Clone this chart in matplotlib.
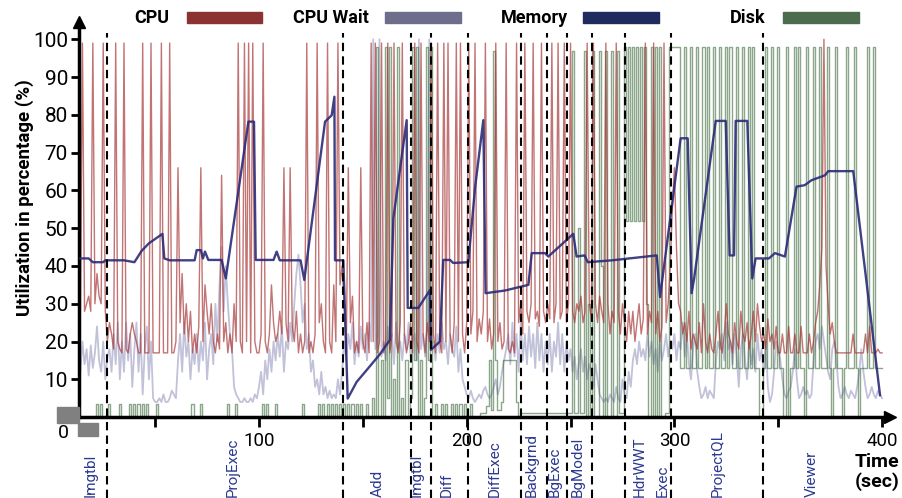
import numpy as np
import matplotlib.pyplot as plt
from matplotlib.patches import Rectangle

plt.rcParams['font.family'] = ['Roboto', 'DejaVu Sans']

# samples are one per second, starting at t = 10 s
t_start = 10

cpu = [
    35, 35, 35, 30, 28, 99, 28, 30, 32, 28,   # 10
    99, 30, 38, 32, 30, 99, 28, 20, 25, 22,   # 20
    18, 99, 20, 18, 17, 99, 18, 17, 22, 25,   # 30
    22, 20, 17, 17, 99, 17, 17, 17, 99, 17,   # 40
    17, 17, 17, 99, 17, 17, 17, 99, 17, 17,   # 50
    20, 66, 25, 38, 22, 30, 20, 28, 17, 22,   # 60
    17, 24, 66, 20, 35, 28, 22, 30, 20, 17,   # 70
    22, 18, 64, 20, 25, 17, 22, 17, 30, 20,   # 80
    99, 20, 17, 99, 20, 99, 17, 99, 20, 17,   # 90
    17, 22, 99, 20, 17, 22, 35, 25, 20, 22,   # 100
    28, 22, 66, 25, 20, 66, 24, 20, 28, 17,   # 110
    22, 17, 20, 99, 17, 20, 17, 22, 99, 25,   # 120
    30, 20, 17, 99, 20, 17, 35, 20, 99, 35,   # 130
    40, 30, 17, 66, 25, 32, 17, 20, 17, 66,   # 140
    20, 17, 25, 17, 99, 20, 99, 17, 20, 99,   # 150
    17, 20, 99, 17, 22, 99, 20, 17, 25, 99,   # 160
    22, 17, 20, 25, 17, 99, 20, 17, 99, 22,   # 170
    17, 25, 20, 99, 22, 17, 99, 20, 17, 99,   # 180
    20, 99, 22, 17, 25, 99, 20, 99, 22, 17,   # 190
    25, 99, 22, 28, 99, 20, 26, 22, 28, 99,   # 200
    20, 26, 18, 22, 99, 20, 25, 18, 20, 99,   # 210
    18, 17, 20, 17, 99, 25, 30, 22, 99, 28,   # 220
    25, 30, 99, 26, 28, 24, 99, 28, 25, 30,   # 230
    26, 99, 25, 30, 99, 26, 28, 99, 25, 30,   # 240
    99, 28, 25, 30, 28, 32, 25, 28, 99, 30,   # 250
    26, 99, 30, 25, 32, 28, 25, 99, 30, 22,   # 260
    28, 25, 99, 28, 22, 30, 25, 20, 28, 22,   # 270
    28, 20, 25, 30, 22, 26, 99, 22, 28, 25,   # 280
    99, 22, 28, 20, 24, 99, 25, 30, 40, 55,   # 290
    66, 45, 30, 28, 22, 25, 20, 28, 18, 22,   # 300
    20, 18, 25, 17, 30, 20, 17, 22, 18, 17,   # 310
    22, 28, 20, 17, 22, 30, 22, 20, 17, 25,   # 320
    20, 18, 28, 22, 20, 25, 18, 22, 28, 20,   # 330
    30, 24, 20, 22, 18, 26, 20, 22, 18, 24,   # 340
    17, 17, 22, 17, 17, 24, 17, 17, 22, 17,   # 350
    17, 24, 17, 17, 17, 22, 17, 20, 25, 28,   # 360
    35, 45, 100, 40, 30, 22, 25, 20, 17, 17,  # 370
    17, 17, 17, 17, 17, 17, 22, 17, 17, 17,   # 380
    17, 17, 22, 17, 24, 17, 17, 17, 18, 17,   # 390
    17,
]

cpu_wait = [
    15, 15, 15, 18, 12, 20, 14, 18, 11, 19,   # 10
    13, 17, 24, 15, 12, 20, 10, 16, 18, 12,   # 20
    22, 14, 25, 10, 20, 12, 25, 15, 22, 8,    # 30
    18, 25, 12, 22, 6, 18, 24, 10, 20, 5,     # 40
    4, 4, 5, 4, 6, 4, 4, 5, 7, 6,             # 50
    5, 15, 22, 12, 25, 16, 20, 10, 18, 14,    # 60
    22, 12, 20, 15, 25, 10, 18, 22, 14, 30,   # 70
    20, 35, 45, 28, 40, 30, 22, 18, 8, 6,     # 80
    5, 4, 4, 5, 4, 4, 5, 4, 6, 5,             # 90
    8, 12, 6, 15, 10, 18, 12, 20, 15, 22,     # 100
    16, 24, 12, 20, 18, 25, 20, 30, 38, 43,   # 110
    35, 25, 30, 18, 22, 12, 15, 8, 10, 6,     # 120
    12, 6, 8, 5, 7, 5, 6, 5, 10, 6,           # 130
    12, 20, 15, 22, 18, 25, 14, 20, 16, 24,   # 140
    18, 22, 15, 25, 20, 100, 18, 22, 100, 16, # 150
    20, 15, 24, 18, 22, 14, 25, 18, 20, 15,   # 160
    22, 18, 25, 16, 20, 22, 15, 100, 18, 22,  # 170
    16, 24, 100, 18, 20, 15, 22, 17, 25, 18,  # 180
    20, 14, 22, 18, 16, 24, 12, 18, 10, 8,    # 190
    6, 5, 7, 5, 4, 5, 6, 5, 7, 8,             # 200
    6, 5, 6, 8, 10, 6, 8, 12, 15, 18,         # 210
    22, 14, 25, 16, 22, 12, 25, 15, 22, 14,   # 220
    24, 16, 22, 13, 25, 15, 22, 12, 20, 14,   # 230
    22, 12, 20, 16, 25, 14, 22, 12, 20, 15,   # 240
    18, 12, 16, 10, 14, 18, 12, 16, 10, 14,   # 250
    12, 8, 14, 10, 6, 5, 4, 5, 4, 6,          # 260
    5, 4, 8, 5, 4, 10, 6, 5, 12, 8,           # 270
    15, 18, 14, 20, 16, 18, 15, 22, 16, 20,   # 280
    14, 18, 12, 20, 15, 18, 22, 16, 20, 18,   # 290
    22, 15, 20, 18, 25, 16, 22, 14, 10, 18,   # 300
    22, 12, 8, 5, 6, 8, 5, 7, 6, 5,           # 310
    15, 20, 18, 22, 15, 25, 18, 20, 14, 22,   # 320
    16, 8, 18, 22, 15, 10, 20, 14, 18, 12,    # 330
    22, 15, 18, 12, 20, 8, 4, 6, 12, 20,      # 340
    18, 15, 10, 6, 5, 7, 8, 12, 18, 10,       # 350
    5, 6, 8, 6, 7, 5, 6, 15, 20, 22,          # 360
    18, 24, 20, 16, 12, 10, 18, 20, 15, 8,    # 370
    5, 6, 8, 6, 5, 7, 6, 5, 8, 12,            # 380
    18, 12, 8, 5, 6, 8, 6, 5, 7, 6,           # 390
    5,
]

disk = [
    0, 0, 0, 0, 0, 0, 0, 0, 0, 0,             # 10
    0, 0, 3.5, 0, 3.5, 0, 0, 0, 3.5, 0,       # 20
    0, 0, 0, 3.5, 0, 0, 0, 0, 3.5, 0,         # 30
    3.5, 0, 3.5, 0, 3.5, 0, 3.5, 0, 0, 0,     # 40
    0, 3.5, 0, 0, 0, 0, 0, 0, 0, 0,           # 50
    0, 0, 0, 0, 0, 0, 0, 0, 3.5, 0,           # 60
    0, 0, 3.5, 0, 0, 0, 0, 0, 0, 0,           # 70
    0, 0, 0, 0, 0, 3.5, 0, 0, 0, 3.5,         # 80
    0, 0, 0, 0, 0, 0, 0, 0, 0, 0,             # 90
    0, 0, 3.5, 0, 3.5, 0, 0, 0, 3.5, 0,       # 100
    0, 0, 0, 0, 0, 0, 0, 0, 0, 0,             # 110
    0, 3.5, 0, 0, 0, 0, 0, 0, 0, 3.5,         # 120
    0, 3.5, 0, 3.5, 0, 3.5, 0, 3.5, 0, 3.5,   # 130
    0, 3.5, 0, 3.5, 0, 3.5, 0, 3.5, 0, 3.5,   # 140
    0, 0, 3.5, 0, 0, 5, 0, 98, 0, 15,         # 150
    0, 98, 5, 98, 0, 10, 0, 98, 0, 5,         # 160
    0, 15, 0, 5, 98, 15, 98, 0, 15, 0,        # 170
    5, 98, 15, 98, 0, 3.5, 0, 0, 3.5, 0,      # 180
    3.5, 0, 0, 3.5, 0, 3.5, 0, 3.5, 0, 3.5,   # 190
    0, 0, 3.5, 0, 0, 0, 0, 1, 1, 1,           # 200
    3, 15, 2, 97, 15, 2, 2, 4, 15, 15,        # 210
    15, 15, 15, 15, 4, 0, 1, 1, 1, 1,         # 220
    1, 1, 1, 1, 1, 1, 1, 1, 1, 1,             # 230
    1, 1, 1, 1, 1, 1, 1, 1, 1, 1,             # 240
    1, 97, 1, 1, 50, 1, 1, 97, 0, 30,         # 250
    0, 97, 0, 0, 97, 40, 0, 97, 0, 0,         # 260
    97, 0, 0, 97, 1, 1, 98, 52, 98, 52,       # 270
    98, 52, 98, 52, 98, 52, 98, 30, 0, 98,    # 280
    0, 98, 0, 98, 0, 0, 1, 1, 98, 98,         # 290
    98, 98, 98, 13, 13, 98, 13, 13, 98, 13,   # 300
    13, 98, 13, 13, 98, 13, 98, 13, 13, 98,   # 310
    13, 13, 98, 13, 13, 98, 13, 98, 13, 13,   # 320
    98, 13, 13, 98, 13, 13, 98, 13, 98, 13,   # 330
    13, 0, 0, 13, 98, 13, 13, 98, 13, 13,     # 340
    98, 13, 13, 0, 98, 0, 13, 13, 98, 13,     # 350
    98, 13, 13, 0, 98, 13, 13, 98, 13, 13,    # 360
    98, 13, 13, 13, 98, 13, 0, 13, 98, 13,    # 370
    13, 0, 13, 98, 13, 13, 13, 98, 13, 0,     # 380
    13, 13, 13, 98, 13, 13, 98, 13, 13, 13,   # 390
    13,
]

# memory is read as break points (time, value)
mem_t = [14, 18, 20, 25, 26, 35, 40, 43.5, 47, 53.5,
         54.4, 57, 69, 70, 72, 73, 74, 75.6, 82, 84,
         94.9, 97.6, 98.4, 107, 108.5, 110, 120, 121.8, 131.8, 135,
         136.3, 136.6, 140.6, 142.7, 147, 151, 158.3, 163, 164.7, 171.1,
         171.6, 176.7, 182.3, 182.8, 187.1, 188.7, 192, 193.5, 200.8, 204,
         208, 209.1, 218.4, 229.7, 231.3, 237.7, 239.3, 251.3, 252.9, 256.7,
         258.3, 270, 291.5, 293.1, 303, 306.4, 308.3, 309.5, 319.9, 324.7,
         326.6, 328.7, 329.5, 335.1, 337.5, 339.1, 345.5, 348.4, 353.2, 358.8,
         362.8, 366, 372.5, 374.1, 386.1, 399]
mem_v = [42, 42, 41, 41, 41.5, 41.5, 41, 44, 46, 48.5,
         42, 41.5, 41.5, 44.2, 44.2, 42, 43.8, 41.6, 41.6, 36.7,
         78.2, 78.2, 41.6, 41.6, 43.8, 41.5, 41.5, 36.3, 78.2, 79.9,
         84.8, 41.5, 41.5, 4.9, 9.3, 11.9, 16.7, 20.4, 52.6, 78.6,
         28.9, 28.9, 33.6, 17.8, 20, 41.6, 41.6, 40.8, 41, 60.6,
         78.6, 32.8, 33.5, 35, 43.4, 43.4, 42.5, 48.5, 42.5, 42.8,
         41, 41.5, 42.8, 31.8, 73.8, 73.8, 32.8, 36.7, 78.4, 78.4,
         42.8, 42.8, 78.4, 78.4, 36.7, 42, 42, 43.4, 42.5, 61,
         61.4, 62.7, 64, 65.1, 65.1, 5.8]

phase_x = [26.7, 140.3, 173, 182.7, 200.8, 226, 238.5, 248.2, 260.5, 276.2, 298.2, 342.5]
phase_names = ['Imgtbl', 'ProjExec', 'Add', 'Imgtbl', 'Diff', 'DiffExec', 'Backgrnd',
               'BgExec', 'BgModel', 'HdrWWT', 'Exec', 'ProjectQL', 'Viewer']
phase_label_x = [19, 87.6, 157.3, 175.9, 190.4, 213.6, 231.3, 242.5, 253.7,
                 283.4, 294.6, 321.1, 366]

legend_names = ['CPU', 'CPU Wait', 'Memory', 'Disk']
legend_colors = ['#8b3232', '#6e6e8c', '#1f2a5e', '#4d6b4d']

W, H = 902, 498
fig = plt.figure(figsize=(W / 100, H / 100), dpi=100)
# pixel layout: y=0 at 417 px, 3.778 px per %, t=0 at 51.3 px, 2.077 px per s
ax = fig.add_axes([79 / W, (H - 417.1) / H, (890 - 79) / W, (417.1 - 22) / H])
ax.set_xlim((79 - 51.3) / 2.077, (890 - 51.3) / 2.077)
ax.set_ylim(0, (417.1 - 22) / 3.778)

def tgrid(series):
    return np.arange(t_start, t_start + len(series))

ax.plot(tgrid(cpu_wait), cpu_wait, color='#8f8fbb', lw=1.3, alpha=0.55, zorder=2)
ax.plot(tgrid(disk), disk, color='#3f6b3f', lw=1.0, alpha=0.6, drawstyle='steps-mid', zorder=2)
ax.plot(tgrid(cpu), cpu, color='#a83838', lw=1.0, alpha=0.7, zorder=2)
ax.plot(mem_t, mem_v, color='#2b2b78', lw=1.7, alpha=0.9, zorder=3)

for x in phase_x:
    ax.plot([x, x], [-21.4, 101.7], color='k', lw=1.5, ls=(0, (4, 2.5)),
            clip_on=False, zorder=5)
for x, name in zip(phase_label_x, phase_names):
    ax.text(x, -21.2, name, rotation=90, ha='center', va='bottom',
            fontsize=11, color='#2b3990')

for s in ['top', 'right']:
    ax.spines[s].set_visible(False)
for s in ['left', 'bottom']:
    ax.spines[s].set_linewidth(2.5)
ax.plot(0, 1, marker='^', ms=9, color='k', transform=ax.transAxes, clip_on=False)
ax.plot(1, 0, marker='>', ms=9, color='k', transform=ax.transAxes, clip_on=False)

ax.set_yticks(range(10, 101, 10))
ax.tick_params(axis='y', length=6, width=2, labelsize=15, pad=2)
ax.set_xticks(range(50, 401, 50))
ax.set_xticklabels(['', '100', '', '200', '', '300', '', '400'])
ax.tick_params(axis='x', length=7.5, width=2, labelsize=13.5, pad=3)

fig.text(25 / W, 1 - 198 / H, 'Utilization in percentage (%)', rotation=90,
         fontsize=13.5, weight='bold', ha='center', va='center')
fig.text(877 / W, 1 - 472 / H, 'Time\n(sec)', ha='center', va='center',
         weight='bold', fontsize=14, linespacing=1.05)
fig.text(63 / W, 1 - 433 / H, '0', fontsize=14, ha='center', va='center')

# legend across the top
text_x = [151.7, 331, 534, 747.5]
patch_x = [186.7, 385, 583.3, 783.3]
for name, c, tx, px in zip(legend_names, legend_colors, text_x, patch_x):
    fig.text(tx / W, 1 - 18 / H, name, weight='bold', fontsize=13,
             ha='center', va='center')
    fig.add_artist(Rectangle((px / W, 1 - 23.3 / H), 75.5 / W, 11.6 / H,
                             transform=fig.transFigure, color=c))

# grey blocks at the origin
fig.add_artist(Rectangle((57 / W, 1 - 423 / H), 22 / W, 16 / H,
                         transform=fig.transFigure, color='#808080'))
fig.add_artist(Rectangle((78 / W, 1 - 436 / H), 20 / W, 13 / H,
                         transform=fig.transFigure, color='#808080'))

fig.savefig('out.png', dpi=100)
